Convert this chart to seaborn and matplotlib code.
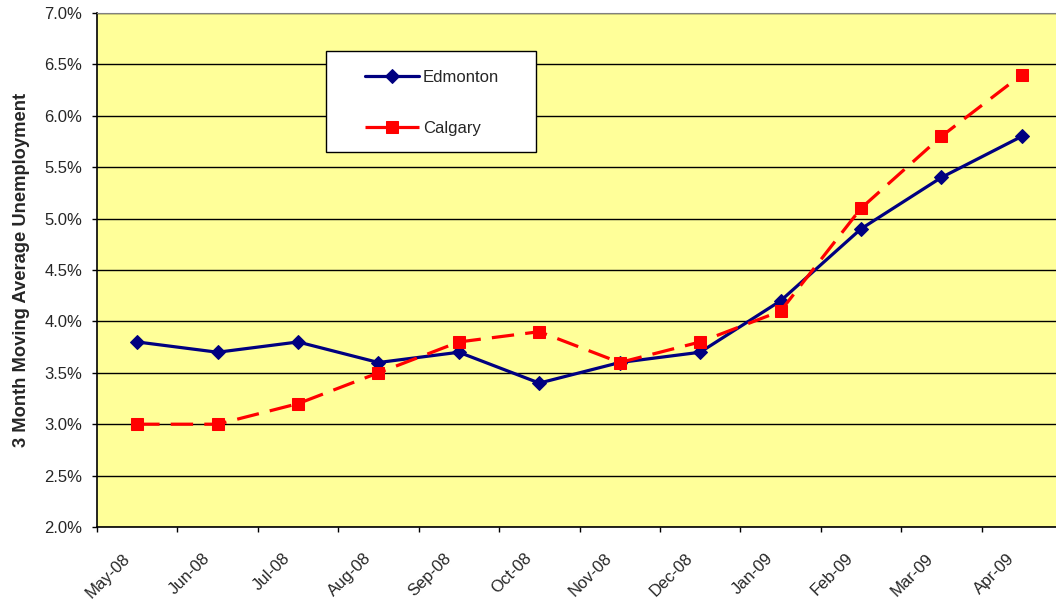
import matplotlib
matplotlib.use("Agg")
import matplotlib.pyplot as plt
import matplotlib.ticker as mticker
from matplotlib.patches import Rectangle
import numpy as np
import pandas as pd
import seaborn as sns

months = ["May-08", "Jun-08", "Jul-08", "Aug-08", "Sep-08", "Oct-08",
          "Nov-08", "Dec-08", "Jan-09", "Feb-09", "Mar-09", "Apr-09"]
edmonton = [3.8, 3.7, 3.8, 3.6, 3.7, 3.4, 3.6, 3.7, 4.2, 4.9, 5.4, 5.8]
calgary = [3.0, 3.0, 3.2, 3.5, 3.8, 3.9, 3.6, 3.8, 4.1, 5.1, 5.8, 6.4]
y_ticks = [2.0, 2.5, 3.0, 3.5, 4.0, 4.5, 5.0, 5.5, 6.0, 6.5, 7.0]

sns.set_style("white")
plt.rcParams["font.family"] = ["Liberation Sans", "DejaVu Sans"]

W, H = 1056, 603
pos = np.arange(len(months))
df = pd.DataFrame({"pos": pos, "Edmonton": edmonton, "Calgary": calgary})

fig = plt.figure(figsize=(W / 100, H / 100), dpi=100)
ax = fig.add_axes([97 / W, 1 - 527 / H, (1062 - 97) / W, (527 - 13) / H])
ax.set_facecolor("#FFFF99")

for y in y_ticks:
    ax.axhline(y, color="#000000", lw=1.0, zorder=1)

sns.lineplot(data=df, x="pos", y="Edmonton", ax=ax, color="#000080", lw=2.3,
             marker="D", markersize=7.5, markeredgecolor="#000080",
             label="Edmonton", zorder=3, legend=False)
sns.lineplot(data=df, x="pos", y="Calgary", ax=ax, color="#FF0000", lw=2.3,
             marker="s", markersize=9, markeredgecolor="#FF0000",
             label="Calgary", zorder=4, legend=False)
ax.lines[-1].set_dashes((7, 3.5))

ax.set_xlim(-0.5, len(months) - 0.5)
ax.set_ylim(2.0, 7.0)
ax.set_yticks(y_ticks)
ax.yaxis.set_major_formatter(mticker.FuncFormatter(lambda v, _: f"{v:.1f}%"))
# rotated month labels sit slightly left of each category centre
ax.set_xticks(pos - 0.19)
ax.set_xticklabels(months, rotation=45, ha="right", rotation_mode="anchor")
ax.set_xticks(np.arange(-0.5, len(months), 1.0), minor=True)
ax.tick_params(axis="x", which="major", length=0, pad=17, labelsize=12)
ax.tick_params(axis="x", which="minor", length=3.6, width=1, color="black",
               direction="out", bottom=True)
ax.tick_params(axis="y", length=3.6, width=1, color="black", direction="out",
               left=True, labelsize=12, pad=7)

ax.set_xlabel("")
ax.set_ylabel("3 Month Moving Average Unemployment", fontsize=13.2,
              fontweight="bold")
ax.yaxis.set_label_coords(-0.0695, 0.5)

for side in ["left", "bottom"]:
    ax.spines[side].set_color("black")
    ax.spines[side].set_linewidth(1.2)
ax.spines["top"].set_color("#808080")
ax.spines["right"].set_visible(False)

# legend box
box = Rectangle((326 / W, 1 - 152 / H), (536 - 326) / W, (152 - 51) / H,
                transform=fig.transFigure, facecolor="white",
                edgecolor="black", lw=1.0, zorder=4.5, clip_on=False)
ax.add_patch(box)
handles = ax.lines[-2:]
leg = ax.legend(handles, ["Edmonton", "Calgary"], loc="upper left",
                bbox_to_anchor=(365 / W, 1 - 70 / H),
                bbox_transform=fig.transFigure,
                frameon=False, fontsize=12, handlelength=3.24,
                labelspacing=2.14, borderpad=0, handletextpad=0.24,
                borderaxespad=0)
leg.set_zorder(5)

fig.savefig("out.png", dpi=100)
